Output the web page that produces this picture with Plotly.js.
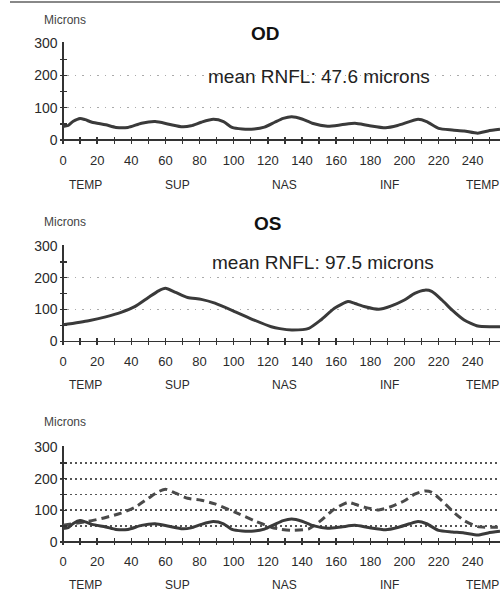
<!DOCTYPE html>
<html><head><meta charset="utf-8">
<script src="https://cdn.plot.ly/plotly-3.0.1.min.js"></script>
<style>html,body{margin:0;padding:0;background:#fff}</style>
</head><body><div id="chart" style="width:500px;height:597px"></div>
<script>
// OD (right eye) RNFL thickness profile
const odAngle = [0, 3, 6, 10, 13, 17, 25, 31, 38, 46, 54, 62, 70, 75, 81, 88, 94, 99, 105, 112, 118, 124, 129, 134, 140, 146, 155, 163, 171, 179, 189, 196, 203, 208, 213, 220, 228, 235, 243, 249, 256];
const odMicrons = [42, 45, 58, 67, 63, 55, 47, 39, 39, 52, 57, 49, 41, 44, 55, 64, 57, 39, 34, 34, 40, 55, 67, 72, 65, 52, 43, 47, 52, 45, 38, 45, 57, 64, 57, 36, 31, 28, 21, 28, 33];
// OS (left eye) RNFL thickness profile
const osAngle = [0, 15, 25, 34, 42, 50, 56, 60, 66, 73, 81, 89, 101, 112, 122, 127, 134, 144, 151, 159, 167, 171, 177, 185, 192, 200, 206, 212, 216, 222, 228, 235, 243, 251, 256];
const osMicrons = [52, 65, 77, 91, 109, 138, 159, 167, 154, 138, 132, 120, 93, 67, 46, 40, 36, 41, 67, 104, 125, 119, 109, 101, 111, 130, 151, 161, 157, 130, 98, 67, 48, 46, 46];

const sectorLabels = ['TEMP', 'SUP', 'NAS', 'INF', 'TEMP'];
const sectorPos = [13, 67, 130, 191, 246];
const panelTitles = ['OD', 'OS'];
const meanTexts = ['mean RNFL: 47.6 microns', 'mean RNFL: 97.5 microns'];
const yUnit = 'Microns';

const FONT = 'Liberation Sans, Arial, sans-serif';
const LINE = '#3a3a3a';
const W = 500, H = 597;
const px = x => x / W;
const py = y => 1 - y / H;

function xax(anchor) {
  return {
    domain: [59.6 / W, 1], range: [-2, 256], anchor: anchor,
    showgrid: false, showline: false,
    zeroline: true, zerolinecolor: '#333', zerolinewidth: 1.6,
    ticks: 'inside', ticklen: 7, tickwidth: 1.4, tickcolor: '#333',
    tick0: 0, dtick: 20,
    minor: {tick0: 0, dtick: 10, ticks: 'inside', ticklen: 7, tickwidth: 1.4, tickcolor: '#333', showgrid: false},
    tickfont: {family: FONT, size: 13, color: '#2a2a2a'},
    ticklabelstandoff: 7, fixedrange: true
  };
}
function yax(anchor, domain, dense) {
  return {
    domain: domain, range: [-11, 303], anchor: anchor,
    showline: false,
    zeroline: true, zerolinecolor: '#333', zerolinewidth: 1.6,
    showgrid: true, griddash: dense ? '2px,3px' : '1.5px,6px',
    gridcolor: dense ? '#555' : '#aaa', gridwidth: dense ? 1.8 : 1.4,
    ticks: 'inside', ticklen: 7, tickwidth: 1.4, tickcolor: '#333',
    tick0: 0, dtick: 100,
    minor: {tick0: 0, dtick: 50, ticks: 'inside', ticklen: 7, tickwidth: 1.4, tickcolor: '#333',
            showgrid: !!dense, griddash: '2px,3px', gridcolor: '#555', gridwidth: 1.8},
    tickfont: {family: FONT, size: 14, color: '#2a2a2a'},
    ticklabelstandoff: 1, fixedrange: true
  };
}

const traces = [
  {x: odAngle, y: odMicrons, xaxis: 'x', yaxis: 'y', mode: 'lines', line: {color: LINE, width: 3, shape: 'spline', smoothing: 0.6}, hoverinfo: 'skip'},
  {x: osAngle, y: osMicrons, xaxis: 'x2', yaxis: 'y2', mode: 'lines', line: {color: LINE, width: 3, shape: 'spline', smoothing: 0.6}, hoverinfo: 'skip'},
  {x: osAngle, y: osMicrons, xaxis: 'x3', yaxis: 'y3', mode: 'lines', line: {color: '#4a4a4a', width: 3, dash: '8px,5px', shape: 'spline', smoothing: 0.6}, hoverinfo: 'skip'},
  {x: odAngle, y: odMicrons, xaxis: 'x3', yaxis: 'y3', mode: 'lines', line: {color: LINE, width: 3, shape: 'spline', smoothing: 0.6}, hoverinfo: 'skip'}
];

const annotations = [];
// y-unit labels
[20, 222, 422].forEach(y => annotations.push({xref: 'paper', yref: 'paper', x: px(65), y: py(y), text: yUnit, showarrow: false, xanchor: 'center', yanchor: 'middle', font: {family: FONT, size: 12, color: '#444'}}));
// titles
[[265, 33], [267, 223]].forEach((p, i) => annotations.push({xref: 'paper', yref: 'paper', x: px(p[0]), y: py(p[1]), text: '<b>' + panelTitles[i] + '</b>', showarrow: false, xanchor: 'center', yanchor: 'middle', font: {family: FONT, size: 19, color: '#111'}}));
// mean text
[[319, 77], [323, 262]].forEach((p, i) => annotations.push({xref: 'paper', yref: 'paper', x: px(p[0]), y: py(p[1]), text: meanTexts[i], showarrow: false, xanchor: 'center', yanchor: 'middle', font: {family: FONT, size: 19, color: '#222'}}));
// sector labels
const xrefs = ['x', 'x2', 'x3'];
[185, 385, 585].forEach((y, k) => {
  sectorLabels.forEach((t, i) => annotations.push({xref: xrefs[k], yref: 'paper', x: sectorPos[i], y: py(y), text: t, showarrow: false, xanchor: 'center', yanchor: 'middle', font: {family: FONT, size: 12, color: '#2a2a2a'}}));
});

const layout = {
  width: W, height: H,
  margin: {l: 0, r: 0, t: 0, b: 0},
  paper_bgcolor: '#fff', plot_bgcolor: '#fff',
  showlegend: false,
  xaxis: xax('y'), yaxis: yax('x', [0.7596, 0.9290], false),
  xaxis2: xax('y2'), yaxis2: yax('x2', [0.4224, 0.5896], false),
  xaxis3: xax('y3'), yaxis3: yax('x3', [0.0868, 0.2524], true),
  annotations: annotations,
  shapes: [{type: 'line', xref: 'paper', yref: 'paper', x0: px(10), x1: 1, y0: py(2), y1: py(2), line: {color: '#888', width: 2}}]
};

Plotly.newPlot('chart', traces, layout, {staticPlot: true, displayModeBar: false});
</script>
</body></html>
